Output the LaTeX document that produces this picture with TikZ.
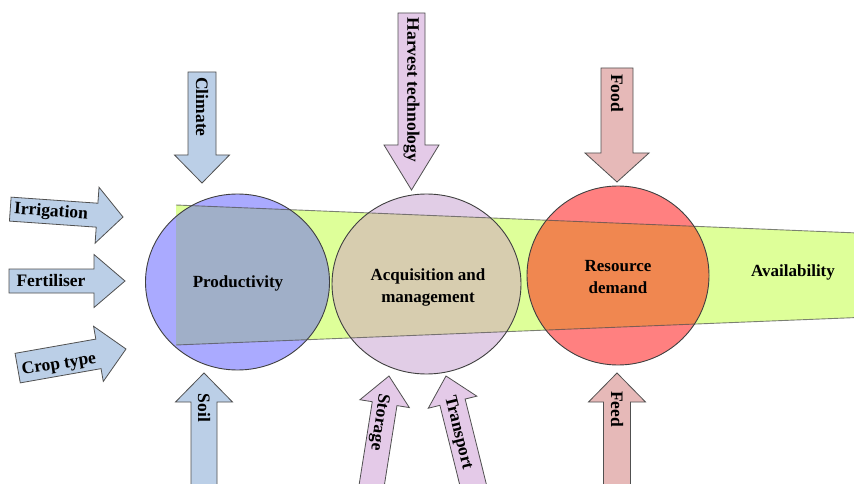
\documentclass[tikz,border=0pt]{standalone}
\usepackage{fontspec}
\setmainfont{Liberation Serif}
\definecolor{arrblue}{RGB}{187,207,231}
\definecolor{arrlav}{RGB}{228,202,232}
\definecolor{arrpink}{RGB}{230,185,184}
\definecolor{edgegray}{RGB}{80,80,80}
\definecolor{bandfill}{RGB}{222,255,153}
\definecolor{prodfill}{RGB}{170,170,255}
\definecolor{prodmix}{RGB}{160,175,200}
\definecolor{acqfill}{RGB}{225,205,230}
\definecolor{acqmix}{RGB}{215,205,175}
\definecolor{demfill}{RGB}{255,128,128}
\definecolor{demmix}{RGB}{240,135,80}
% block arrow: style, tip, direction, length, shaft half-width, head half-width, head length
\newcommand{\blockarrow}[7]{%
  \draw[#1,shift={#2},rotate=#3] (0,0) -- (-#7,#6) -- (-#7,#5) -- (-#4,#5)
    -- (-#4,-#5) -- (-#7,-#5) -- (-#7,-#6) -- cycle;}
\begin{document}
\begin{tikzpicture}[x=1pt,y=-1pt,
  lbl/.style={font=\fontsize{17.5}{20}\selectfont\bfseries, inner sep=0pt},
  ctext/.style={font=\fontsize{17}{22}\selectfont\bfseries, align=center, inner sep=0pt},
  bluearrow/.style={fill=arrblue, draw=edgegray, line width=0.8pt, line join=miter},
  lavarrow/.style={fill=arrlav, draw=edgegray, line width=0.8pt, line join=miter},
  pinkarrow/.style={fill=arrpink, draw=edgegray, line width=0.8pt, line join=miter},
  ring/.style={draw=black!75, line width=0.9pt}]
\clip (0,0) rectangle (854,484);
\fill[white] (0,0) rectangle (854,484);

% availability band
\fill[bandfill] (176,205) -- (870,233.5) -- (870,317) -- (176,345) -- cycle;

% the three circles
\fill[prodfill] (237.5,282) ellipse [x radius=92pt, y radius=88pt];
\fill[acqfill] (426.5,284) ellipse [x radius=94.5pt, y radius=90pt];
\fill[demfill] (618,275.5) ellipse [x radius=91pt, y radius=89.5pt];

% where each circle lies over the band
\begin{scope}
  \clip (176,205) -- (870,233.5) -- (870,317) -- (176,345) -- cycle;
  \fill[prodmix] (237.5,282) ellipse [x radius=92pt, y radius=88pt];
  \fill[acqmix] (426.5,284) ellipse [x radius=94.5pt, y radius=90pt];
  \fill[demmix] (618,275.5) ellipse [x radius=91pt, y radius=89.5pt];
\end{scope}

% outlines
\draw[black!70, draw opacity=0.7, line width=0.9pt]
  (176,205) -- (870,233.5) (870,317) -- (176,345) -- cycle;
\draw[ring] (237.5,282) ellipse [x radius=92pt, y radius=88pt];
\draw[ring] (426.5,284) ellipse [x radius=94.5pt, y radius=90pt];
\draw[ring] (618,275.5) ellipse [x radius=91pt, y radius=89.5pt];

% circle labels
\node[ctext] (prod) at (238,283) {Productivity};
\node[ctext] (acq) at (428,287) {Acquisition and\\management};
\node[ctext] (dem) at (618,277) {Resource\\demand};
\node[ctext] (avail) at (793,272) {Availability};

% inputs to productivity
\blockarrow{bluearrow}{(123,217)}{-4}{113}{12}{28}{26}
\blockarrow{bluearrow}{(125,281)}{0}{116}{12}{26.5}{31}
\blockarrow{bluearrow}{(126,349)}{10}{110}{15}{28}{28}
\blockarrow{bluearrow}{(202,183)}{-90}{111}{14}{27.5}{28}
\blockarrow{bluearrow}{(204,373)}{90}{118}{13}{28.5}{29}

% inputs to acquisition and management
\blockarrow{lavarrow}{(411.5,190)}{-90}{177}{13.5}{27.5}{45}
\blockarrow{lavarrow}{(389,376)}{81}{116}{12.5}{25}{28}
\blockarrow{lavarrow}{(446,376)}{104}{118}{13}{25}{27}

% inputs to resource demand
\blockarrow{pinkarrow}{(617,182)}{-90}{114}{16}{32}{29}
\blockarrow{pinkarrow}{(617,373)}{90}{118}{13.5}{28.5}{29}

% arrow labels
\node[lbl, rotate=-4] (irr) at (51,212) {Irrigation};
\node[lbl] (fert) at (51,281) {Fertiliser};
\node[lbl, rotate=9] (crop) at (59,365) {Crop type};
\node[lbl, rotate=-90] (clim) at (202,107) {Climate};
\node[lbl, rotate=-90] (soil) at (204,408) {Soil};
\node[lbl, rotate=-90] (harv) at (411.5,90) {Harvest technology};
\node[lbl, rotate=-98] (stor) at (379,422) {Storage};
\node[lbl, rotate=-76] (trans) at (458,433) {Transport};
\node[lbl, rotate=-90] (food) at (617,93) {Food};
\node[lbl, rotate=-90] (feed) at (617,409) {Feed};
\end{tikzpicture}
\end{document}
